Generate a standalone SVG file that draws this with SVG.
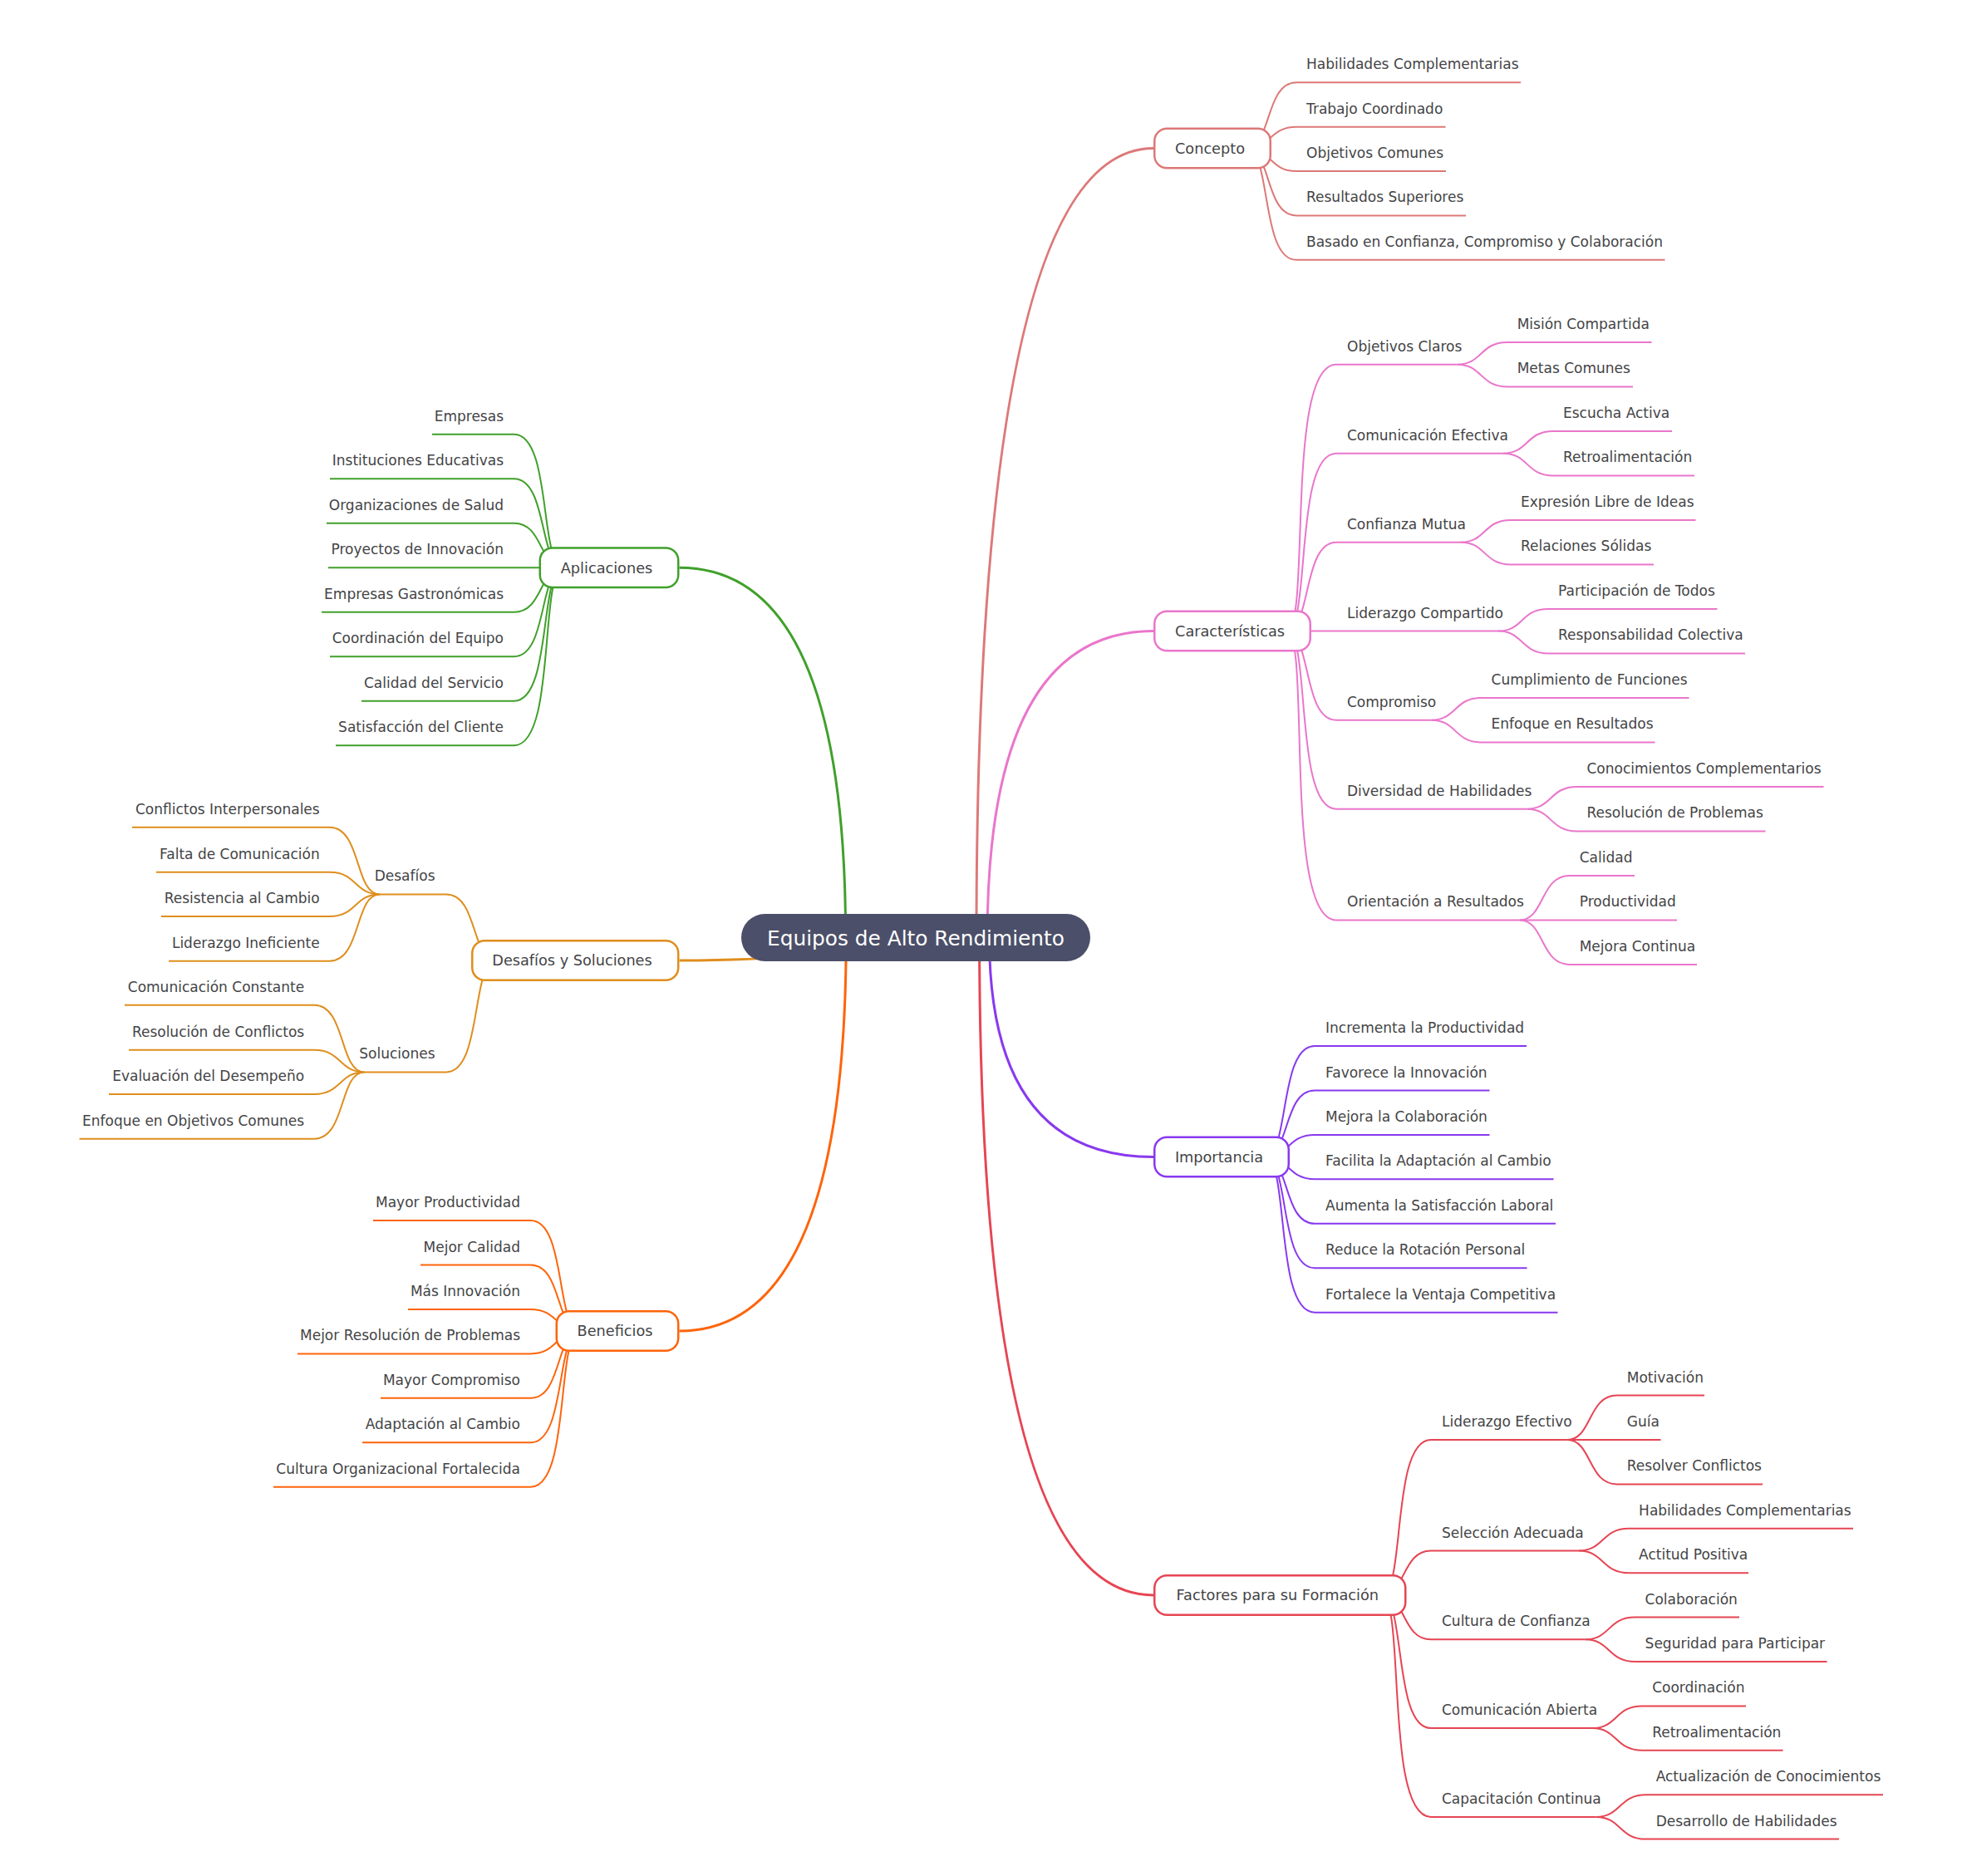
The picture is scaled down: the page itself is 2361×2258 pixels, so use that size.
<svg xmlns="http://www.w3.org/2000/svg" width="2361" height="2258" viewBox="0 0 2361 2258">
<style>
text{font-family:"DejaVu Sans","Liberation Sans",sans-serif;fill:#444446}
.t{font-size:17px}
.tl{font-size:17px;text-anchor:end}
.m{font-size:17.7px;text-anchor:middle}
.r{font-size:24.8px;text-anchor:middle;fill:#ffffff}
.box{fill:#ffffff;stroke-width:2.5}
path{fill:none}
.ml{stroke-width:3}
.sl{stroke-width:2}
.c1{stroke:#dd7878}.c2{stroke:#ea76cb}.c3{stroke:#8839ef}.c4{stroke:#e64553}
.c5{stroke:#fe640b}.c6{stroke:#df8e1d}.c7{stroke:#40a02b}
</style>
<rect width="2361" height="2258" fill="#ffffff"/>
<g id="connectors">
<g class="ml">
<path class="c1" d="M1175 1128.5Q1175 178.5 1388 178.5"/>
<path class="c2" d="M1188.1 1128.5Q1188.1 759.5 1388 759.5"/>
<path class="c3" d="M1190.5 1128.5Q1190.5 1392.5 1388 1392.5"/>
<path class="c4" d="M1178.6 1128.5Q1178.6 1920 1388 1920"/>
<path class="c7" d="M1017.6 1128.5Q1017.6 683.2 817.5 683.2"/>
<path class="c6" d="M1008.1 1128.5Q1008.1 1156 817.5 1156"/>
<path class="c5" d="M1018.2 1128.5Q1018.2 1602 817.5 1602"/>
</g>
<g class="sl c1">
<path d="M1500 178.5C1530 178.5 1522.1 99.3 1560 99.3H1830"/>
<path d="M1500 178.5C1530 178.5 1527.4 152.7 1560 152.7H1739.5"/>
<path d="M1500 178.5C1530 178.5 1527.3 206 1560 206H1740"/>
<path d="M1500 178.5C1530 178.5 1521.9 259.4 1560 259.4H1764"/>
<path d="M1500 178.5C1530 178.5 1516.6 312.8 1560 312.8H2003.5"/>
</g>
<g class="sl c2">
<path d="M1548 759.5C1578 759.5 1545.9 438.7 1608 438.7H1753.7"/>
<path d="M1548 759.5C1578 759.5 1556.6 545.7 1608 545.7H1809"/>
<path d="M1548 759.5C1578 759.5 1567.3 652.7 1608 652.7H1758"/>
<path d="M1548 759.5C1578 759.5 1578 759.6 1608 759.6H1803"/>
<path d="M1548 759.5C1578 759.5 1567.3 866.7 1608 866.7H1722.6"/>
<path d="M1548 759.5C1578 759.5 1556.6 973.7 1608 973.7H1837.5"/>
<path d="M1548 759.5C1578 759.5 1543.2 1107.4 1608 1107.4H1828.7"/>
<path d="M1753.7 438.7C1783.7 438.7 1781 411.9 1813.7 411.9H1987.5"/>
<path d="M1753.7 438.7C1783.7 438.7 1781 465.4 1813.7 465.4H1965"/>
<path d="M1809 545.7C1839 545.7 1836.3 518.9 1869 518.9H2012"/>
<path d="M1809 545.7C1839 545.7 1836.3 572.4 1869 572.4H2039"/>
<path d="M1758 652.7C1788 652.7 1785.3 625.9 1818 625.9H2040.5"/>
<path d="M1758 652.7C1788 652.7 1785.3 679.4 1818 679.4H1990"/>
<path d="M1803 759.6C1833 759.6 1830.3 732.9 1863 732.9H2066.5"/>
<path d="M1803 759.6C1833 759.6 1830.3 786.4 1863 786.4H2100"/>
<path d="M1722.6 866.7C1752.6 866.7 1749.9 839.9 1782.6 839.9H2032.5"/>
<path d="M1722.6 866.7C1752.6 866.7 1749.9 893.4 1782.6 893.4H1991.5"/>
<path d="M1837.5 973.7C1867.5 973.7 1864.8 946.9 1897.5 946.9H2194.5"/>
<path d="M1837.5 973.7C1867.5 973.7 1864.8 1000.4 1897.5 1000.4H2124.5"/>
<path d="M1828.7 1107.4C1858.7 1107.4 1853.4 1053.9 1888.7 1053.9H1967"/>
<path d="M1828.7 1107.4H2018"/>
<path d="M1828.7 1107.4C1858.7 1107.4 1853.4 1160.9 1888.7 1160.9H2042"/>
</g>
<g class="sl c3">
<path d="M1522 1392.5C1552 1392.5 1538.7 1259 1582 1259H1837"/>
<path d="M1522 1392.5C1552 1392.5 1544 1312.5 1582 1312.5H1792.5"/>
<path d="M1522 1392.5C1552 1392.5 1549.3 1365.9 1582 1365.9H1792.5"/>
<path d="M1522 1392.5C1552 1392.5 1549.3 1419.3 1582 1419.3H1869.5"/>
<path d="M1522 1392.5C1552 1392.5 1544 1472.8 1582 1472.8H1872"/>
<path d="M1522 1392.5C1552 1392.5 1538.6 1526.2 1582 1526.2H1837.5"/>
<path d="M1522 1392.5C1552 1392.5 1533.3 1579.7 1582 1579.7H1874.5"/>
</g>
<g class="sl c4">
<path d="M1662 1920C1692 1920 1673.3 1733 1722 1733H1885.8"/>
<path d="M1662 1920C1692 1920 1686.7 1866.5 1722 1866.5H1900.1"/>
<path d="M1662 1920C1692 1920 1686.7 1973.3 1722 1973.3H1907.6"/>
<path d="M1662 1920C1692 1920 1676 2080.1 1722 2080.1H1916.2"/>
<path d="M1662 1920C1692 1920 1665.3 2186.9 1722 2186.9H1920.7"/>
<path d="M1885.8 1733C1915.8 1733 1910.5 1679.6 1945.8 1679.6H2051"/>
<path d="M1885.8 1733H1998.5"/>
<path d="M1885.8 1733C1915.8 1733 1910.5 1786.4 1945.8 1786.4H2121"/>
<path d="M1900.1 1866.5C1930.1 1866.5 1927.4 1839.8 1960.1 1839.8H2230"/>
<path d="M1900.1 1866.5C1930.1 1866.5 1927.4 1893.2 1960.1 1893.2H2104"/>
<path d="M1907.6 1973.3C1937.6 1973.3 1934.9 1946.6 1967.6 1946.6H2093"/>
<path d="M1907.6 1973.3C1937.6 1973.3 1934.9 2000 1967.6 2000H2198.5"/>
<path d="M1916.2 2080.1C1946.2 2080.1 1943.5 2053.4 1976.2 2053.4H2101"/>
<path d="M1916.2 2080.1C1946.2 2080.1 1943.5 2106.8 1976.2 2106.8H2145.5"/>
<path d="M1920.7 2186.9C1950.7 2186.9 1948 2160.2 1980.7 2160.2H2266"/>
<path d="M1920.7 2186.9C1950.7 2186.9 1948 2213.6 1980.7 2213.6H2213"/>
</g>
<g class="sl c7">
<path d="M678.5 683.2C648.5 683.2 664.6 522.7 618.5 522.7H520"/>
<path d="M678.5 683.2C648.5 683.2 659.2 576.2 618.5 576.2H397"/>
<path d="M678.5 683.2C648.5 683.2 653.9 629.7 618.5 629.7H393"/>
<path d="M678.5 683.2H395"/>
<path d="M678.5 683.2C648.5 683.2 653.9 736.7 618.5 736.7H387"/>
<path d="M678.5 683.2C648.5 683.2 659.2 790.2 618.5 790.2H397"/>
<path d="M678.5 683.2C648.5 683.2 664.6 843.7 618.5 843.7H435"/>
<path d="M678.5 683.2C648.5 683.2 669.9 897.2 618.5 897.2H404"/>
</g>
<g class="sl c6">
<path d="M597 1156C567 1156 575 1076.4 537 1076.4H456.7"/>
<path d="M597 1156C567 1156 580.4 1290.4 537 1290.4H438.2"/>
<path d="M456.7 1076.4C426.7 1076.4 434.8 995.7 396.7 995.7H159"/>
<path d="M456.7 1076.4C426.7 1076.4 429.4 1049.7 396.7 1049.7H188"/>
<path d="M456.7 1076.4C426.7 1076.4 429.4 1103 396.7 1103H194"/>
<path d="M456.7 1076.4C426.7 1076.4 434.7 1156.7 396.7 1156.7H203"/>
<path d="M438.2 1290.4C408.2 1290.4 416.2 1209.7 378.2 1209.7H150"/>
<path d="M438.2 1290.4C408.2 1290.4 410.9 1263.7 378.2 1263.7H155"/>
<path d="M438.2 1290.4C408.2 1290.4 410.9 1317 378.2 1317H131"/>
<path d="M438.2 1290.4C408.2 1290.4 416.2 1370.7 378.2 1370.7H95.5"/>
</g>
<g class="sl c5">
<path d="M698.5 1602C668.5 1602 681.8 1469 638.5 1469H449"/>
<path d="M698.5 1602C668.5 1602 676.5 1522.5 638.5 1522.5H506"/>
<path d="M698.5 1602C668.5 1602 671.1 1575.9 638.5 1575.9H491"/>
<path d="M698.5 1602C668.5 1602 671.2 1629.4 638.5 1629.4H358"/>
<path d="M698.5 1602C668.5 1602 676.6 1682.8 638.5 1682.8H458"/>
<path d="M698.5 1602C668.5 1602 681.9 1736.3 638.5 1736.3H436"/>
<path d="M698.5 1602C668.5 1602 687.3 1789.7 638.5 1789.7H329"/>
</g>
</g>
<g id="root"><rect x="892" y="1100" width="420" height="57" rx="28.5" fill="#4c4f69"/><text class="r" x="1102" y="1137.5">Equipos de Alto Rendimiento</text></g>
<g id="concepto"><rect class="box c1" x="1389.25" y="154.75" width="139.5" height="47.5" rx="15"/><text class="m" x="1456" y="184.9">Concepto</text></g>
<g id="caracteristicas"><rect class="box c2" x="1389.25" y="735.75" width="187.5" height="47.5" rx="15"/><text class="m" x="1480" y="765.9">Características</text></g>
<g id="importancia"><rect class="box c3" x="1389.25" y="1368.75" width="161.5" height="47.5" rx="15"/><text class="m" x="1467" y="1398.9">Importancia</text></g>
<g id="factores"><rect class="box c4" x="1389.25" y="1896.25" width="302" height="47.5" rx="15"/><text class="m" x="1537.25" y="1926.4">Factores para su Formación</text></g>
<g id="aplicaciones"><rect class="box c7" x="649.75" y="659.45" width="166.5" height="47.5" rx="15"/><text class="m" x="730" y="689.6">Aplicaciones</text></g>
<g id="desafios-soluciones"><rect class="box c6" x="568.25" y="1132.25" width="248" height="47.5" rx="15"/><text class="m" x="688.5" y="1162.4">Desafíos y Soluciones</text></g>
<g id="beneficios"><rect class="box c5" x="669.75" y="1578.25" width="146.5" height="47.5" rx="15"/><text class="m" x="740" y="1608.4">Beneficios</text></g>
<g id="concepto-hijos">
<g id="c-1"><text class="t" x="1572" y="83.3">Habilidades Complementarias</text></g>
<g id="c-2"><text class="t" x="1572" y="136.7">Trabajo Coordinado</text></g>
<g id="c-3"><text class="t" x="1572" y="190">Objetivos Comunes</text></g>
<g id="c-4"><text class="t" x="1572" y="243.4">Resultados Superiores</text></g>
<g id="c-5"><text class="t" x="1572" y="296.8">Basado en Confianza, Compromiso y Colaboración</text></g>
</g>
<g id="caracteristicas-hijos">
<g id="k-1"><text class="t" x="1621" y="422.7">Objetivos Claros</text></g>
<g id="k-1-1"><text class="t" x="1825.7" y="395.9">Misión Compartida</text></g>
<g id="k-1-2"><text class="t" x="1825.7" y="449.4">Metas Comunes</text></g>
<g id="k-2"><text class="t" x="1621" y="529.7">Comunicación Efectiva</text></g>
<g id="k-2-1"><text class="t" x="1881" y="502.9">Escucha Activa</text></g>
<g id="k-2-2"><text class="t" x="1881" y="556.4">Retroalimentación</text></g>
<g id="k-3"><text class="t" x="1621" y="636.7">Confianza Mutua</text></g>
<g id="k-3-1"><text class="t" x="1830" y="609.9">Expresión Libre de Ideas</text></g>
<g id="k-3-2"><text class="t" x="1830" y="663.4">Relaciones Sólidas</text></g>
<g id="k-4"><text class="t" x="1621" y="743.6">Liderazgo Compartido</text></g>
<g id="k-4-1"><text class="t" x="1875" y="716.9">Participación de Todos</text></g>
<g id="k-4-2"><text class="t" x="1875" y="770.4">Responsabilidad Colectiva</text></g>
<g id="k-5"><text class="t" x="1621" y="850.7">Compromiso</text></g>
<g id="k-5-1"><text class="t" x="1794.6" y="823.9">Cumplimiento de Funciones</text></g>
<g id="k-5-2"><text class="t" x="1794.6" y="877.4">Enfoque en Resultados</text></g>
<g id="k-6"><text class="t" x="1621" y="957.7">Diversidad de Habilidades</text></g>
<g id="k-6-1"><text class="t" x="1909.5" y="930.9">Conocimientos Complementarios</text></g>
<g id="k-6-2"><text class="t" x="1909.5" y="984.4">Resolución de Problemas</text></g>
<g id="k-7"><text class="t" x="1621" y="1091.4">Orientación a Resultados</text></g>
<g id="k-7-1"><text class="t" x="1900.7" y="1037.9">Calidad</text></g>
<g id="k-7-2"><text class="t" x="1900.7" y="1091.4">Productividad</text></g>
<g id="k-7-3"><text class="t" x="1900.7" y="1144.9">Mejora Continua</text></g>
</g>
<g id="importancia-hijos">
<g id="i-1"><text class="t" x="1595" y="1243">Incrementa la Productividad</text></g>
<g id="i-2"><text class="t" x="1595" y="1296.5">Favorece la Innovación</text></g>
<g id="i-3"><text class="t" x="1595" y="1349.9">Mejora la Colaboración</text></g>
<g id="i-4"><text class="t" x="1595" y="1403.3">Facilita la Adaptación al Cambio</text></g>
<g id="i-5"><text class="t" x="1595" y="1456.8">Aumenta la Satisfacción Laboral</text></g>
<g id="i-6"><text class="t" x="1595" y="1510.2">Reduce la Rotación Personal</text></g>
<g id="i-7"><text class="t" x="1595" y="1563.7">Fortalece la Ventaja Competitiva</text></g>
</g>
<g id="factores-hijos">
<g id="f-1"><text class="t" x="1735" y="1717">Liderazgo Efectivo</text></g>
<g id="f-1-1"><text class="t" x="1957.8" y="1663.6">Motivación</text></g>
<g id="f-1-2"><text class="t" x="1957.8" y="1717">Guía</text></g>
<g id="f-1-3"><text class="t" x="1957.8" y="1770.4">Resolver Conflictos</text></g>
<g id="f-2"><text class="t" x="1735" y="1850.5">Selección Adecuada</text></g>
<g id="f-2-1"><text class="t" x="1972.1" y="1823.8">Habilidades Complementarias</text></g>
<g id="f-2-2"><text class="t" x="1972.1" y="1877.2">Actitud Positiva</text></g>
<g id="f-3"><text class="t" x="1735" y="1957.3">Cultura de Confianza</text></g>
<g id="f-3-1"><text class="t" x="1979.6" y="1930.6">Colaboración</text></g>
<g id="f-3-2"><text class="t" x="1979.6" y="1984">Seguridad para Participar</text></g>
<g id="f-4"><text class="t" x="1735" y="2064.1">Comunicación Abierta</text></g>
<g id="f-4-1"><text class="t" x="1988.2" y="2037.4">Coordinación</text></g>
<g id="f-4-2"><text class="t" x="1988.2" y="2090.8">Retroalimentación</text></g>
<g id="f-5"><text class="t" x="1735" y="2170.9">Capacitación Continua</text></g>
<g id="f-5-1"><text class="t" x="1992.7" y="2144.2">Actualización de Conocimientos</text></g>
<g id="f-5-2"><text class="t" x="1992.7" y="2197.6">Desarrollo de Habilidades</text></g>
</g>
<g id="aplicaciones-hijos">
<g id="a-1"><text class="tl" x="606" y="506.7">Empresas</text></g>
<g id="a-2"><text class="tl" x="606" y="560.2">Instituciones Educativas</text></g>
<g id="a-3"><text class="tl" x="606" y="613.7">Organizaciones de Salud</text></g>
<g id="a-4"><text class="tl" x="606" y="667.2">Proyectos de Innovación</text></g>
<g id="a-5"><text class="tl" x="606" y="720.7">Empresas Gastronómicas</text></g>
<g id="a-6"><text class="tl" x="606" y="774.2">Coordinación del Equipo</text></g>
<g id="a-7"><text class="tl" x="606" y="827.7">Calidad del Servicio</text></g>
<g id="a-8"><text class="tl" x="606" y="881.2">Satisfacción del Cliente</text></g>
</g>
<g id="desafios-hijos">
<g id="d-1"><text class="tl" x="523.5" y="1060.4">Desafíos</text></g>
<g id="d-1-1"><text class="tl" x="384.7" y="979.7">Conflictos Interpersonales</text></g>
<g id="d-1-2"><text class="tl" x="384.7" y="1033.7">Falta de Comunicación</text></g>
<g id="d-1-3"><text class="tl" x="384.7" y="1087">Resistencia al Cambio</text></g>
<g id="d-1-4"><text class="tl" x="384.7" y="1140.7">Liderazgo Ineficiente</text></g>
<g id="d-2"><text class="tl" x="523.5" y="1274.4">Soluciones</text></g>
<g id="d-2-1"><text class="tl" x="366.2" y="1193.7">Comunicación Constante</text></g>
<g id="d-2-2"><text class="tl" x="366.2" y="1247.7">Resolución de Conflictos</text></g>
<g id="d-2-3"><text class="tl" x="366.2" y="1301">Evaluación del Desempeño</text></g>
<g id="d-2-4"><text class="tl" x="366.2" y="1354.7">Enfoque en Objetivos Comunes</text></g>
</g>
<g id="beneficios-hijos">
<g id="b-1"><text class="tl" x="626" y="1453">Mayor Productividad</text></g>
<g id="b-2"><text class="tl" x="626" y="1506.5">Mejor Calidad</text></g>
<g id="b-3"><text class="tl" x="626" y="1559.9">Más Innovación</text></g>
<g id="b-4"><text class="tl" x="626" y="1613.4">Mejor Resolución de Problemas</text></g>
<g id="b-5"><text class="tl" x="626" y="1666.8">Mayor Compromiso</text></g>
<g id="b-6"><text class="tl" x="626" y="1720.3">Adaptación al Cambio</text></g>
<g id="b-7"><text class="tl" x="626" y="1773.7">Cultura Organizacional Fortalecida</text></g>
</g>
</svg>
